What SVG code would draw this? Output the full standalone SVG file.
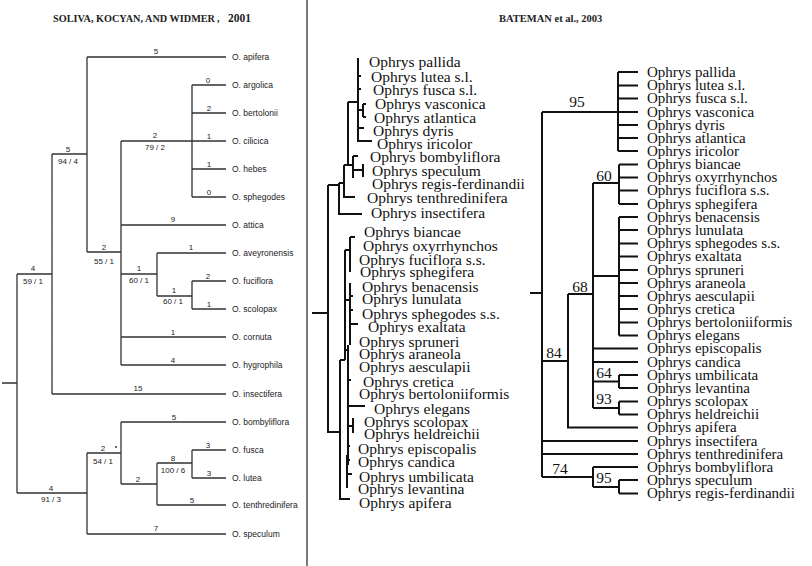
<svg xmlns="http://www.w3.org/2000/svg" width="812" height="566" viewBox="0 0 812 566">
<style>
.lt{font-family:"Liberation Sans",Arial,sans-serif;font-size:8.5px;fill:#222}
.bl{font-family:"Liberation Sans",Arial,sans-serif;font-size:8px;fill:#222;text-anchor:middle}
.ml{font-family:"Liberation Serif","Times New Roman",serif;font-size:15.5px;fill:#111}
.rl{font-family:"Liberation Serif","Times New Roman",serif;font-size:15px;fill:#111}
.rb{font-family:"Liberation Serif","Times New Roman",serif;font-size:15.5px;fill:#111;text-anchor:middle}
.ttl{font-family:"Liberation Serif","Times New Roman",serif;font-weight:bold;fill:#222}
.lc{fill:none;stroke:#333;stroke-width:1.3}
.mc{fill:none;stroke:#111;stroke-width:2}
.rc{fill:none;stroke:#111;stroke-width:2}
</style>
<rect width="812" height="566" fill="#fff"/>
<g id="titles">
<text class="ttl" x="53" y="22" font-size="10" textLength="162" lengthAdjust="spacingAndGlyphs">SOLIVA, KOCYAN, AND WIDMER</text>
<text class="ttl" x="217" y="22" font-size="10">,</text>
<text class="ttl" x="228" y="22" font-size="11.5">2001</text>
<text class="ttl" x="499" y="22" font-size="10.5">BATEMAN et al., 2003</text>
</g>
<g id="divider"><line x1="307" y1="0" x2="307" y2="566" stroke="#222" stroke-width="1.2"/></g>

<g id="connectors">
<path class="lc" d="M2,383H17M17,274V493M17,274H52M52,154V394M52,154H87M87,57V252M87,57H226M87,252H121M121,141V365M121,141H226M192,85V197M192,85H226M192,113H226M192,169H226M192,197H226M121,225H226M121,274H157M157,253V296M157,253H226M157,296H192M192,281V309M192,281H226M192,309H226M121,337H226M121,365H226M52,394H226M17,493H87M87,453V534M87,453H121M121,422V484M121,422H226M121,484H157M157,463V505M157,463H192M192,450V478M192,450H226M192,478H226M157,505H226M87,534H226"/>
<path class="mc" d="M358,58V141H372M358,76H361M358,89H361M358,110H363M363,104V117M363,104H366M363,117H366M358,128H364M348,102H358M348,102V165M353,156V178M353,156H358M353,170H363M363,164V177M344,165H353M344,165V197H355M339,183V214H362M339,183H344M328,185H339M328,185V432H340M312,313H328M340,360V499H350M340,360H345M345,250V360M345,250H350M350,237V272M350,237H355M350,283V345M350,296H353M350,310H353M350,324H358M345,300H350M348,345V465M345,350H348M348,380H351M349,406H365M347,426H353M353,418V433M347,446H350M347,460H350M347,474H352M347,455V488"/>
<path class="mc" stroke-width="3" d="M348,130V165M350,245V272M348,360V465"/>
<path class="rc" d="M530,293H542M542,112V477M542,112H638M618,72V151M618,72H638M618,85.5H638M618,98.5H638M618,125H638M618,138H638M618,151H638M593,183H619M619,164.5V204M619,164.5H638M619,177.5H638M619,190.5H638M619,204H638M593,183V408M593,276H619M619,217V335.5M619,217H638M619,230H638M619,243.5H638M619,256.5H638M619,270H638M619,283H638M619,296H638M619,309H638M619,322.5H638M619,335.5H638M568,294H593M568,294V427.5H638M542,361H568M593,348.5H638M593,362H638M593,381.5H619M619,375V388M619,375H638M619,388H638M593,408H619M619,401.5V414.5M619,401.5H638M619,414.5H638M542,441H638M542,454H638M542,477H593M593,467V487M593,467H638M593,487H619M619,480V493.5M619,480H638M619,493.5H638"/>
</g>

<g id="soliva-tree">
<g id="l-apifera"><text class="lt" x="232" y="60">O. apifera</text></g>
<g id="l-argolica"><text class="lt" x="232" y="88">O. argolica</text></g>
<g id="l-bertolonii"><text class="lt" x="232" y="116">O. bertolonii</text></g>
<g id="l-cilicica"><text class="lt" x="232" y="144">O. cilicica</text></g>
<g id="l-hebes"><text class="lt" x="232" y="172">O. hebes</text></g>
<g id="l-sphegodes"><text class="lt" x="232" y="200">O. sphegodes</text></g>
<g id="l-attica"><text class="lt" x="232" y="228">O. attica</text></g>
<g id="l-aveyronensis"><text class="lt" x="232" y="256">O. aveyronensis</text></g>
<g id="l-fuciflora"><text class="lt" x="232" y="284">O. fuciflora</text></g>
<g id="l-scolopax"><text class="lt" x="232" y="312">O. scolopax</text></g>
<g id="l-cornuta"><text class="lt" x="232" y="340">O. cornuta</text></g>
<g id="l-hygrophila"><text class="lt" x="232" y="368">O. hygrophila</text></g>
<g id="l-insectifera"><text class="lt" x="232" y="397">O. insectifera</text></g>
<g id="l-bombyliflora"><text class="lt" x="232" y="425">O. bombyliflora</text></g>
<g id="l-fusca"><text class="lt" x="232" y="453">O. fusca</text></g>
<g id="l-lutea"><text class="lt" x="232" y="481">O. lutea</text></g>
<g id="l-tenthredinifera"><text class="lt" x="232" y="508">O. tenthredinifera</text></g>
<g id="l-speculum"><text class="lt" x="232" y="537">O. speculum</text></g>
<g id="l-branch-labels">
<text class="bl" x="156" y="54">5</text>
<text class="bl" x="68" y="152">5</text><text class="bl" x="68" y="164">94 / 4</text>
<text class="bl" x="208" y="83">0</text><text class="bl" x="209" y="111">2</text><text class="bl" x="209" y="139">1</text><text class="bl" x="209" y="167">1</text><text class="bl" x="209" y="195">0</text>
<text class="bl" x="155" y="138">2</text><text class="bl" x="155" y="150">79 / 2</text>
<text class="bl" x="173" y="222">9</text>
<text class="bl" x="104" y="250">2</text><text class="bl" x="104" y="264">55 / 1</text>
<text class="bl" x="191" y="250">1</text>
<text class="bl" x="33" y="271">4</text><text class="bl" x="33" y="284">59 / 1</text>
<text class="bl" x="139" y="271">1</text><text class="bl" x="139" y="283">60 / 1</text>
<text class="bl" x="208" y="279">2</text>
<text class="bl" x="174" y="293">1</text><text class="bl" x="173" y="304">60 / 1</text>
<text class="bl" x="209" y="307">1</text>
<text class="bl" x="173" y="335">1</text><text class="bl" x="173" y="363">4</text>
<text class="bl" x="138" y="391">15</text>
<text class="bl" x="174" y="420">5</text>
<text class="bl" x="103" y="451">2</text><circle cx="116" cy="447" r="0.9" fill="#222"/><text class="bl" x="103" y="464">54 / 1</text>
<text class="bl" x="208" y="448">3</text>
<text class="bl" x="173" y="461">8</text><text class="bl" x="173" y="473">100 / 6</text>
<text class="bl" x="209" y="476">3</text>
<text class="bl" x="138" y="482">2</text>
<text class="bl" x="192" y="503">5</text>
<text class="bl" x="51" y="491">4</text><text class="bl" x="51" y="502">91 / 3</text>
<text class="bl" x="156" y="531">7</text>
</g>
</g>

<g id="bateman-tree-a">
<g id="m-pallida"><text class="ml" x="369" y="66.5">Ophrys pallida</text></g>
<g id="m-lutea"><text class="ml" x="371" y="81.5">Ophrys lutea s.l.</text></g>
<g id="m-fusca"><text class="ml" x="373" y="94.5">Ophrys fusca s.l.</text></g>
<g id="m-vasconica"><text class="ml" x="375" y="108.5">Ophrys vasconica</text></g>
<g id="m-atlantica"><text class="ml" x="374" y="122.5">Ophrys atlantica</text></g>
<g id="m-dyris"><text class="ml" x="373" y="135.5">Ophrys dyris</text></g>
<g id="m-iricolor"><text class="ml" x="377" y="148.5">Ophrys iricolor</text></g>
<g id="m-bombyliflora"><text class="ml" x="370" y="161.5">Ophrys bombyliflora</text></g>
<g id="m-speculum"><text class="ml" x="372" y="175.5">Ophrys speculum</text></g>
<g id="m-regis"><text class="ml" x="372" y="188.5">Ophrys regis-ferdinandii</text></g>
<g id="m-tenthredinifera"><text class="ml" x="367" y="202.5">Ophrys tenthredinifera</text></g>
<g id="m-insectifera"><text class="ml" x="371" y="217.5">Ophrys insectifera</text></g>
<g id="m-biancae"><text class="ml" x="364" y="236.5">Ophrys biancae</text></g>
<g id="m-oxyrrhynchos"><text class="ml" x="363" y="250.5">Ophrys oxyrrhynchos</text></g>
<g id="m-fuciflora"><text class="ml" x="359" y="264.5">Ophrys fuciflora s.s.</text></g>
<g id="m-sphegifera"><text class="ml" x="360" y="276.5">Ophrys sphegifera</text></g>
<g id="m-benacensis"><text class="ml" x="362" y="291.5">Ophrys benacensis</text></g>
<g id="m-lunulata"><text class="ml" x="362" y="303.5">Ophrys lunulata</text></g>
<g id="m-sphegodes"><text class="ml" x="362" y="318.5">Ophrys sphegodes s.s.</text></g>
<g id="m-exaltata"><text class="ml" x="368" y="331.5">Ophrys exaltata</text></g>
<g id="m-spruneri"><text class="ml" x="359" y="346.5">Ophrys spruneri</text></g>
<g id="m-araneola"><text class="ml" x="359" y="358.5">Ophrys araneola</text></g>
<g id="m-aesculapii"><text class="ml" x="359" y="371.5">Ophrys aesculapii</text></g>
<g id="m-cretica"><text class="ml" x="363" y="386.5">Ophrys cretica</text></g>
<g id="m-bertoloniiformis"><text class="ml" x="359" y="398.5">Ophrys bertoloniiformis</text></g>
<g id="m-elegans"><text class="ml" x="374" y="413.5">Ophrys elegans</text></g>
<g id="m-scolopax"><text class="ml" x="364" y="426.5">Ophrys scolopax</text></g>
<g id="m-heldreichii"><text class="ml" x="364" y="438.5">Ophrys heldreichii</text></g>
<g id="m-episcopalis"><text class="ml" x="358" y="453.5">Ophrys episcopalis</text></g>
<g id="m-candica"><text class="ml" x="358" y="466.5">Ophrys candica</text></g>
<g id="m-umbilicata"><text class="ml" x="359" y="481.5">Ophrys umbilicata</text></g>
<g id="m-levantina"><text class="ml" x="358" y="493.5">Ophrys levantina</text></g>
<g id="m-apifera"><text class="ml" x="359" y="507.5">Ophrys apifera</text></g>
</g>

<g id="bateman-tree-b">
<g id="r-pallida"><text class="rl" x="647" y="76.5">Ophrys pallida</text></g>
<g id="r-lutea"><text class="rl" x="647" y="90">Ophrys lutea s.l.</text></g>
<g id="r-fusca"><text class="rl" x="647" y="103">Ophrys fusca s.l.</text></g>
<g id="r-vasconica"><text class="rl" x="647" y="116.5">Ophrys vasconica</text></g>
<g id="r-dyris"><text class="rl" x="647" y="129.5">Ophrys dyris</text></g>
<g id="r-atlantica"><text class="rl" x="647" y="142.5">Ophrys atlantica</text></g>
<g id="r-iricolor"><text class="rl" x="647" y="155.5">Ophrys iricolor</text></g>
<g id="r-biancae"><text class="rl" x="647" y="169">Ophrys biancae</text></g>
<g id="r-oxyrrhynchos"><text class="rl" x="647" y="182">Ophrys oxyrrhynchos</text></g>
<g id="r-fuciflora"><text class="rl" x="647" y="195">Ophrys fuciflora s.s.</text></g>
<g id="r-sphegifera"><text class="rl" x="647" y="208.5">Ophrys sphegifera</text></g>
<g id="r-benacensis"><text class="rl" x="647" y="221.5">Ophrys benacensis</text></g>
<g id="r-lunulata"><text class="rl" x="647" y="234.5">Ophrys lunulata</text></g>
<g id="r-sphegodes"><text class="rl" x="647" y="248">Ophrys sphegodes s.s.</text></g>
<g id="r-exaltata"><text class="rl" x="647" y="261">Ophrys exaltata</text></g>
<g id="r-spruneri"><text class="rl" x="647" y="274.5">Ophrys spruneri</text></g>
<g id="r-araneola"><text class="rl" x="647" y="287.5">Ophrys araneola</text></g>
<g id="r-aesculapii"><text class="rl" x="647" y="300.5">Ophrys aesculapii</text></g>
<g id="r-cretica"><text class="rl" x="647" y="313.5">Ophrys cretica</text></g>
<g id="r-bertoloniiformis"><text class="rl" x="647" y="327">Ophrys bertoloniiformis</text></g>
<g id="r-elegans"><text class="rl" x="647" y="340">Ophrys elegans</text></g>
<g id="r-episcopalis"><text class="rl" x="647" y="353">Ophrys episcopalis</text></g>
<g id="r-candica"><text class="rl" x="647" y="366.5">Ophrys candica</text></g>
<g id="r-umbilicata"><text class="rl" x="647" y="379.5">Ophrys umbilicata</text></g>
<g id="r-levantina"><text class="rl" x="647" y="392.5">Ophrys levantina</text></g>
<g id="r-scolopax"><text class="rl" x="647" y="406">Ophrys scolopax</text></g>
<g id="r-heldreichii"><text class="rl" x="647" y="419">Ophrys heldreichii</text></g>
<g id="r-apifera"><text class="rl" x="647" y="432">Ophrys apifera</text></g>
<g id="r-insectifera"><text class="rl" x="647" y="445.5">Ophrys insectifera</text></g>
<g id="r-tenthredinifera"><text class="rl" x="647" y="458.5">Ophrys tenthredinifera</text></g>
<g id="r-bombyliflora"><text class="rl" x="647" y="471.5">Ophrys bombyliflora</text></g>
<g id="r-speculum"><text class="rl" x="647" y="484.5">Ophrys speculum</text></g>
<g id="r-regis"><text class="rl" x="647" y="498">Ophrys regis-ferdinandii</text></g>
<g id="r-bootstrap">
<text class="rb" x="577" y="107">95</text>
<text class="rb" x="604" y="181">60</text>
<text class="rb" x="580" y="292">68</text>
<text class="rb" x="554" y="358">84</text>
<text class="rb" x="604" y="378">64</text>
<text class="rb" x="604" y="404">93</text>
<text class="rb" x="560" y="474">74</text>
<text class="rb" x="604" y="483">95</text>
</g>
</g>
</svg>
